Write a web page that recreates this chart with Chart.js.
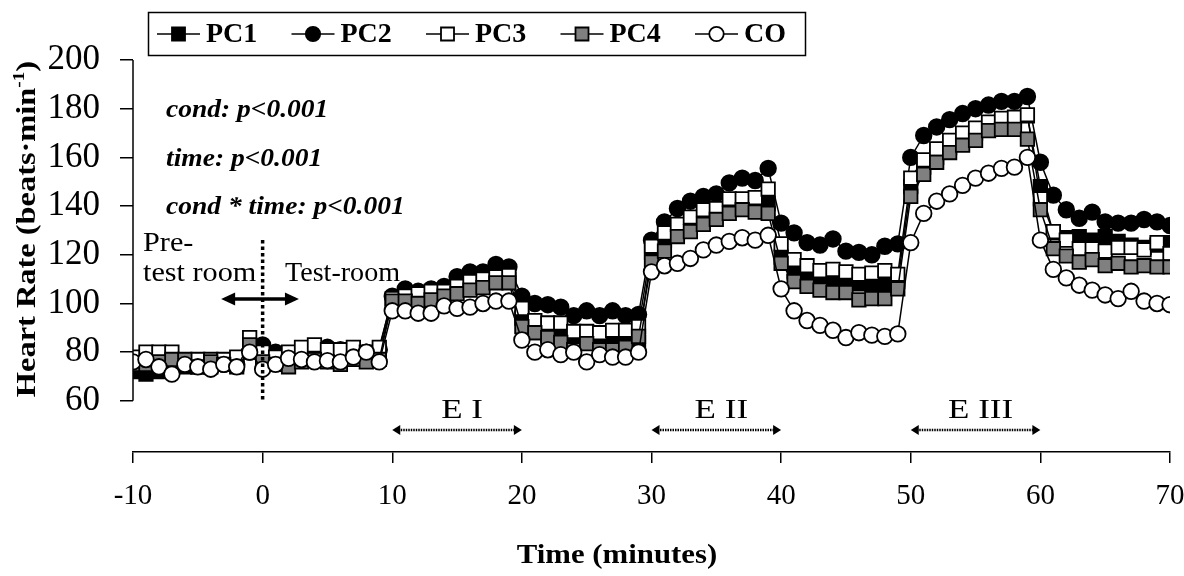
<!DOCTYPE html>
<html>
<head>
<meta charset="utf-8">
<script src="https://cdn.jsdelivr.net/npm/chart.js@4/dist/chart.umd.min.js"></script>
<style>
  html, body { margin: 0; padding: 0; background: #fff; }
  #hr-chart { display: block; }
</style>
</head>
<body>
<canvas id="hr-chart" width="1184" height="576"></canvas>
<script>
// time in minutes, -10 .. 70
const minutes = [
  -10, -9, -8, -7, -6, -5, -4, -3, -2, -1, 0,
  1, 2, 3, 4, 5, 6, 7, 8, 9,
  10, 11, 12, 13, 14, 15, 16, 17, 18, 19,
  20, 21, 22, 23, 24, 25, 26, 27, 28, 29,
  30, 31, 32, 33, 34, 35, 36, 37, 38, 39,
  40, 41, 42, 43, 44, 45, 46, 47, 48, 49,
  50, 51, 52, 53, 54, 55, 56, 57, 58, 59,
  60, 61, 62, 63, 64, 65, 66, 67, 68, 69, 70
];

const pc1 = [
  72, 71, 72, 73, 74, 74, 74, 75, 75, 80, 81,
  79, 78, 79, 81, 81, 80, 78, 79, 79,
  101, 102, 103, 104, 104, 106, 108, 109, 110, 110,
  94, 88, 87, 86, 85, 84, 84, 85, 84, 84,
  121, 126, 129, 132, 135, 137, 139, 140, 140, 141,
  119, 113, 111, 110, 109, 109, 108, 108, 108, 109,
  148, 156, 160, 164, 167, 170, 172, 174, 175, 177,
  148, 129, 127, 127.5, 126, 127.5, 125.5, 124, 123, 124, 125
];
const pc2 = [
  76, 76, 76, 76, 75, 75, 75, 75, 75, 80, 83,
  80, 78, 80, 81, 82, 81, 80, 80, 81,
  103, 106, 105, 106, 107, 111, 113, 113, 116, 115,
  103, 100, 99.5, 98.5, 95, 97, 95, 97, 95, 95.5,
  126, 133.5, 139, 142, 144, 145, 149.5, 151.5, 150.5, 155.5,
  133, 129, 125, 124, 126.5, 121.5, 121, 120, 123.5, 124.5,
  160, 169, 172.5, 175.5, 178, 180, 181.5, 183, 183, 185,
  158, 144.5, 138.5, 135, 137.5, 133.5, 133, 133, 134.5, 133.5, 132
];
const pc3 = [
  78, 80, 80, 80, 76, 77, 77, 77, 78, 86, 80,
  78, 80, 82, 83, 81, 81, 82, 80, 82,
  102, 103, 104, 105, 105, 107, 109, 110, 111, 111.5,
  98, 93, 92, 92, 88.5, 88.5, 88, 89, 89, 90.5,
  123.5, 129, 132.5, 135.5, 138.5, 139, 143, 143, 143.5, 147,
  124.5, 118, 115.5, 113.5, 114, 113, 112, 112.5, 113.5, 112,
  151.5, 159, 163.5, 167, 170, 172, 174.5, 176, 176.5, 177.5,
  143, 129.5, 126, 122.5, 122.5, 121.5, 123, 123, 122, 125, 120.5
];
const pc4 = [
  75, 75, 76, 77, 77, 74, 76, 75, 74, 83, 76,
  75, 74, 76, 77, 76, 75, 77, 76, 77,
  101, 101, 100, 101.5, 103, 104, 105.5, 106.5, 108.5, 108.5,
  90.5, 88, 86, 84, 81, 83.5, 81, 81, 82, 86.5,
  117, 121.5, 127.5, 129.5, 132.5, 134.5, 137, 138.5, 137.5, 137,
  116.5, 109, 107, 105.5, 104.5, 104.5, 101.5, 102, 102, 106,
  144, 153, 158, 162, 165, 167, 171, 171.5, 171.5, 167.5,
  138.5, 122.5, 119.5, 117, 118, 115.5, 116.5, 115, 115.5, 115, 115
];
const co = [
  76, 77, 74, 71, 75, 74, 73, 75, 74, 80, 73,
  75, 77.5, 77, 76, 76.5, 76, 78, 80, 76,
  97, 97, 96, 96, 99, 98, 98.5, 100, 101, 101,
  85, 80, 81, 79, 80, 76, 79, 78, 78, 80,
  113, 115.5, 116.5, 118.5, 122, 124, 125.5, 127, 126, 128,
  106, 97, 93, 91, 89, 86, 88, 87, 86.5, 87.5,
  125, 137, 142, 145, 148.5, 151.5, 153.5, 155.5, 156, 160,
  126, 114, 110.5, 107.5, 105.5, 103.5, 102, 105, 101, 100, 99.5
];

const yTicks = [60, 80, 100, 120, 140, 160, 180, 200];
const xTicks = [-10, 0, 10, 20, 30, 40, 50, 60, 70];
const stats = ["cond: p<0.001", "time: p<0.001", "cond * time: p<0.001"];
const phases = [
  { label: "E I", from: 10, to: 20 },
  { label: "E II", from: 30, to: 40 },
  { label: "E III", from: 50, to: 60 },
];

const SERIF = "'Liberation Serif', 'Times New Roman', serif";

function pts(vals) {
  return minutes.map((m, i) => ({ x: m, y: vals[i] }));
}

function series(label, vals, style, fill, radius, order) {
  return {
    label: label,
    data: pts(vals),
    borderColor: "#000",
    borderWidth: 1.5,
    pointStyle: style,
    pointRadius: radius,
    pointBackgroundColor: fill,
    pointBorderColor: "#000",
    pointBorderWidth: 1.8,
    order: order,
  };
}

const datasets = [
  series("PC1", pc1, "rect", "#000", 9.5, 5),
  series("PC2", pc2, "circle", "#000", 7.8, 4),
  series("PC3", pc3, "rect", "#fff", 9.5, 3),
  series("PC4", pc4, "rect", "#808080", 9.5, 2),
  series("CO", co, "circle", "#fff", 7.8, 1),
];

function arrowHead(ctx, x, y, dir, len, half) {
  ctx.beginPath();
  ctx.moveTo(x, y);
  ctx.lineTo(x - dir * len, y - half);
  ctx.lineTo(x - dir * len, y + half);
  ctx.closePath();
  ctx.fill();
}

// text stretched horizontally, the source figure is a bit wider than normal type
function wideText(ctx, text, x, y, sx) {
  ctx.save();
  ctx.translate(x, y);
  ctx.scale(sx, 1);
  ctx.fillText(text, 0, 0);
  ctx.restore();
}

const extras = {
  id: "extras",
  afterDraw(chart) {
    const ctx = chart.ctx;
    const xs = chart.scales.x;
    const ys = chart.scales.y;
    const left = chart.chartArea.left;
    ctx.save();
    ctx.fillStyle = "#000";
    ctx.strokeStyle = "#000";

    // y axis line, 60..200 only
    ctx.lineWidth = 1.5;
    ctx.beginPath();
    ctx.moveTo(left, ys.getPixelForValue(200));
    ctx.lineTo(left, ys.getPixelForValue(60));
    ctx.stroke();

    // y title with superscript
    ctx.save();
    ctx.translate(28, 229);
    ctx.rotate(-Math.PI / 2);
    ctx.scale(1.2, 1);
    ctx.textBaseline = "middle";
    ctx.textAlign = "left";
    const main = "Heart Rate (beats\u00b7min";
    ctx.font = "bold 27px " + SERIF;
    const w1 = ctx.measureText(main).width;
    const w3 = ctx.measureText(")").width;
    ctx.font = "bold 16px " + SERIF;
    const w2 = ctx.measureText("-1").width;
    let sx = -(w1 + w2 + w3) / 2;
    ctx.font = "bold 27px " + SERIF;
    ctx.fillText(main, sx, 0);
    ctx.font = "bold 16px " + SERIF;
    ctx.fillText("-1", sx + w1, -8);
    ctx.font = "bold 27px " + SERIF;
    ctx.fillText(")", sx + w1 + w2, 0);
    ctx.restore();

    // x title
    ctx.font = "bold 27px " + SERIF;
    ctx.textAlign = "center";
    ctx.textBaseline = "middle";
    wideText(ctx, "Time (minutes)", 617, 556, 1.14);

    // stats text
    ctx.font = "italic bold 25px " + SERIF;
    ctx.textAlign = "left";
    ctx.textBaseline = "alphabetic";
    stats.forEach((s, i) => wideText(ctx, s, 166, 117 + i * 48.5, 1.1));

    // room labels
    ctx.font = "28px " + SERIF;
    wideText(ctx, "Pre-", 143, 251, 1.08);
    wideText(ctx, "test room", 143, 281, 1.08);
    ctx.font = "27px " + SERIF;
    wideText(ctx, "Test-room", 285, 281, 1.04);

    // dotted line at time 0
    const x0 = xs.getPixelForValue(0);
    ctx.lineWidth = 3.5;
    ctx.setLineDash([3.5, 3]);
    ctx.beginPath();
    ctx.moveTo(x0, 240);
    ctx.lineTo(x0, 400);
    ctx.stroke();
    ctx.setLineDash([]);

    // double arrow across the room change
    const ay = 299;
    const a1 = xs.getPixelForValue(-3.2);
    const a2 = xs.getPixelForValue(2.8);
    ctx.lineWidth = 3.5;
    ctx.beginPath();
    ctx.moveTo(a1 + 8, ay);
    ctx.lineTo(a2 - 8, ay);
    ctx.stroke();
    arrowHead(ctx, a1, ay, -1, 14, 6.5);
    arrowHead(ctx, a2, ay, 1, 14, 6.5);

    // exercise bouts
    phases.forEach((p) => {
      const p1 = xs.getPixelForValue(p.from);
      const p2 = xs.getPixelForValue(p.to);
      const py = 430;
      ctx.font = "28px " + SERIF;
      ctx.textAlign = "center";
      ctx.textBaseline = "alphabetic";
      wideText(ctx, p.label, (p1 + p2) / 2 + 5, 418, 1.25);
      ctx.lineWidth = 2.5;
      ctx.setLineDash([1.5, 1]);
      ctx.beginPath();
      ctx.moveTo(p1 + 6, py);
      ctx.lineTo(p2 - 6, py);
      ctx.stroke();
      ctx.setLineDash([]);
      arrowHead(ctx, p1, py, -1, 8, 5);
      arrowHead(ctx, p2, py, 1, 8, 5);
    });

    // legend box
    ctx.lineWidth = 1.5;
    ctx.strokeRect(148.5, 12.5, 657, 43);
    const ly = 34;
    chart.data.datasets.forEach((ds, i) => {
      const lx = 157 + i * 134.5;
      ctx.lineWidth = 1.5;
      ctx.beginPath();
      ctx.moveTo(lx, ly);
      ctx.lineTo(lx + 43, ly);
      ctx.stroke();
      const cx = lx + 21.5;
      ctx.fillStyle = ds.pointBackgroundColor;
      ctx.lineWidth = 1.8;
      ctx.beginPath();
      if (ds.pointStyle === "circle") {
        ctx.arc(cx, ly, 7.2, 0, Math.PI * 2);
      } else {
        ctx.rect(cx - 6.5, ly - 6.5, 13, 13);
      }
      ctx.fill();
      ctx.stroke();
      ctx.fillStyle = "#000";
      ctx.font = "bold 28px " + SERIF;
      ctx.textAlign = "left";
      ctx.textBaseline = "middle";
      ctx.fillText(ds.label, lx + 49, ly + 1);
    });
    ctx.restore();
  },
};

new Chart(document.getElementById("hr-chart"), {
  type: "line",
  data: { datasets: datasets },
  plugins: [extras],
  options: {
    responsive: false,
    devicePixelRatio: 1,
    animation: false,
    layout: { padding: { top: 60, right: 14, left: 0, bottom: 0 } },
    plugins: {
      legend: { display: false },
      tooltip: { enabled: false },
    },
    scales: {
      x: {
        type: "linear",
        min: -10,
        max: 70,
        afterBuildTicks: (s) => { s.ticks = xTicks.map((v) => ({ value: v })); },
        afterFit: (s) => { s.height = 124; s.paddingLeft = 0; s.paddingRight = 0; },
        border: { display: true, color: "#000", width: 1.5 },
        grid: { drawOnChartArea: false, drawTicks: true, tickLength: 11, color: "#000", lineWidth: 1.5 },
        ticks: {
          color: "#000",
          font: { family: SERIF, size: 29 },
          padding: 16,
          maxRotation: 0,
        },
      },
      y: {
        min: 39,
        max: 200,
        afterBuildTicks: (s) => { s.ticks = yTicks.map((v) => ({ value: v })); },
        afterFit: (s) => { s.width = 133; s.paddingTop = 0; s.paddingBottom = 0; },
        border: { display: false },
        grid: { drawOnChartArea: false, drawTicks: true, tickLength: 13, color: "#000", lineWidth: 1.5 },
        ticks: {
          color: "#000",
          font: { family: SERIF, size: 35 },
          padding: 20,
        },
      },
    },
  },
});
</script>
</body>
</html>
